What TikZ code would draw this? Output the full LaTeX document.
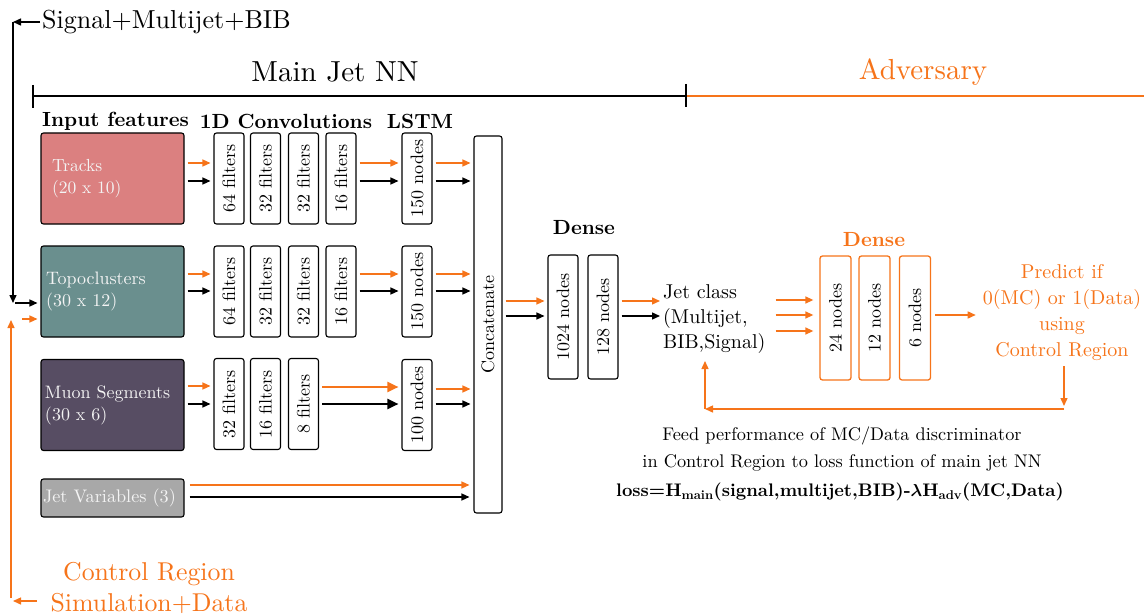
\documentclass[tikz,border=0pt]{standalone}
\usepackage{fontspec}
\setmainfont{lmroman10-regular}[Extension=.otf, BoldFont=lmroman10-bold, ItalicFont=lmroman10-italic, BoldItalicFont=lmroman10-bolditalic]
\usetikzlibrary{arrows.meta,calc}
\definecolor{aor}{RGB}{246,116,26}
\definecolor{ctrk}{RGB}{219,128,128}
\definecolor{ctopo}{RGB}{106,143,142}
\definecolor{cmuon}{RGB}{87,77,99}
\definecolor{cjetv}{RGB}{168,168,168}
\definecolor{boxtext}{RGB}{244,244,244}
\newcommand{\fsz}[2]{\fontsize{#1}{#2}\selectfont}
\begin{document}
\begin{tikzpicture}[x=1pt,y=-1pt,
  box/.style={draw=black, line width=1.1pt, rounded corners=2.5pt, inner sep=0pt},
  inbox/.style={box, minimum width=143pt, minimum height=91pt, text=boxtext, align=left, font=\fsz{18}{22}},
  convbox/.style={box, fill=white, minimum width=30pt, minimum height=91pt, font=\fsz{18}{22}},
  densebox/.style={box, fill=white, minimum width=30pt, minimum height=124pt, font=\fsz{18}{22}},
  advbox/.style={box, draw=aor, line width=1.3pt, fill=white, minimum width=31pt, minimum height=124pt, font=\fsz{18}{22}},
  hdr/.style={font=\bfseries\fsz{20.5}{24}, inner sep=0pt},
  tip/.style={-{Triangle[length=8pt,width=7pt]}},
  karr/.style={tip, draw=black, line width=1.4pt},
  oarr/.style={tip, draw=aor, line width=1.4pt},
  gap/.style={shorten <=3pt, shorten >=3pt}
]
\useasboundingbox (0,0) rectangle (1144,615);

% --- top labels and bracket
\node[font=\fsz{26}{30}, anchor=west, inner sep=0pt] (sig) at (42,22) {Signal+Multijet+BIB};
\node[font=\fsz{29}{34}, inner sep=0pt] (mjn) at (335,72) {Main Jet NN};
\node[font=\fsz{29}{34}, inner sep=0pt, text=aor] (adv) at (923,72) {Adversary};
\coordinate (bl) at (33,96);
\coordinate (bm) at (686,96);
\coordinate (br) at (1144,96);
\draw[line width=2pt] (bl) -- (bm);
\draw[line width=2pt, draw=aor] (bm) -- (br);
\draw[line width=2pt] ($(bl)+(0,-11)$) -- ($(bl)+(0,12)$);
\draw[line width=2pt] ($(bm)+(0,-12)$) -- ($(bm)+(0,11)$);

% --- headers
\node[hdr, anchor=west] (hin) at (42,121) {Input features};
\node[hdr] (hconv) at (286,121) {1D Convolutions};
\node[hdr] (hlstm) at (420,121) {LSTM};

% --- input boxes
\node[inbox, fill=ctrk, text width=121pt, inner xsep=11pt, font=\fsz{17.5}{22}] (trk) at (112.5,178.5) {Tracks\\(20 x 10)};
\node[inbox, fill=ctopo, text width=133pt, inner xsep=5pt] (topo) at (112.5,291.5) {Topoclusters\\(30 x 12)};
\node[inbox, fill=cmuon, text width=135pt, inner xsep=4pt] (muon) at (112.5,405) {Muon Segments\\(30 x 6)};
\node[inbox, fill=cjetv, minimum height=38pt, text width=139pt, inner xsep=2pt, font=\fsz{18.2}{21}] (jetv) at (112.5,498) {Jet Variables (3)};

% --- convolution rows
\node[convbox] (c11) at (229,178.5) {\rotatebox{90}{64 filters}};
\node[convbox] (c12) at (265.5,178.5) {\rotatebox{90}{32 filters}};
\node[convbox] (c13) at (303.5,178.5) {\rotatebox{90}{32 filters}};
\node[convbox] (c14) at (341,178.5) {\rotatebox{90}{16 filters}};
\node[convbox] (l1) at (417,178.5) {\rotatebox{90}{150 nodes}};

\node[convbox] (c21) at (229,291.5) {\rotatebox{90}{64 filters}};
\node[convbox] (c22) at (265.5,291.5) {\rotatebox{90}{32 filters}};
\node[convbox] (c23) at (303.5,291.5) {\rotatebox{90}{32 filters}};
\node[convbox] (c24) at (341,291.5) {\rotatebox{90}{16 filters}};
\node[convbox] (l2) at (417,291.5) {\rotatebox{90}{150 nodes}};

\node[convbox] (c31) at (229,404) {\rotatebox{90}{32 filters}};
\node[convbox] (c32) at (265.5,404) {\rotatebox{90}{16 filters}};
\node[convbox] (c33) at (303.5,404) {\rotatebox{90}{8 filters}};
\node[convbox] (l3) at (417,405) {\rotatebox{90}{100 nodes}};

\node[box, fill=white, minimum width=28pt, minimum height=377pt, font=\fsz{18}{22}] (cat) at (488,324.5) {\rotatebox{90}{Concatenate}};

% --- row arrows
\newcommand{\pairarr}[4]{%
  \draw[oarr, gap] (#1.east |- 0,#3) -- (#2.west |- 0,#3);
  \draw[karr, gap] (#1.east |- 0,#4) -- (#2.west |- 0,#4);}
\pairarr{trk}{c11}{163}{181}
\pairarr{c14}{l1}{163}{181}
\pairarr{l1}{cat}{163}{181}
\pairarr{topo}{c21}{274}{291}
\pairarr{c24}{l2}{274}{291}
\pairarr{l2}{cat}{274}{291}
\pairarr{muon}{c31}{386}{404}
\pairarr{l3}{cat}{389}{404}
\draw[oarr, gap, line width=2.3pt, -{Triangle[length=11pt,width=10pt]}] (c33.east |- 0,387) -- (l3.west |- 0,387);
\draw[karr, gap, line width=2.3pt, -{Triangle[length=11pt,width=10pt]}] (c33.east |- 0,404) -- (l3.west |- 0,404);
\draw[oarr, shorten <=5pt, shorten >=4pt] (jetv.east |- 0,485) -- (cat.west |- 0,485);
\draw[karr, shorten <=5pt, shorten >=4pt] (jetv.east |- 0,497) -- (cat.west |- 0,497);

% --- dense
\node[hdr] (hdense) at (584,228) {Dense};
\node[densebox] (d1) at (563,317) {\rotatebox{90}{1024 nodes}};
\node[densebox] (d2) at (603,317) {\rotatebox{90}{128 nodes}};
\pairarr{cat}{d1}{301}{316}
\node[font=\fsz{20}{25}, align=left, inner sep=0pt, anchor=west] (jc) at (663,319) {Jet class\\(Multijet,\\BIB,Signal)};
\pairarr{d2}{jc}{301}{316}

% --- adversary
\node[hdr, text=aor] (hadense) at (874,240) {Dense};
\node[advbox] (a1) at (835.5,318) {\rotatebox{90}{24 nodes}};
\node[advbox] (a2) at (874.5,318) {\rotatebox{90}{12 nodes}};
\node[advbox] (a3) at (915,318) {\rotatebox{90}{6 nodes}};
\foreach \yy in {300,315,331}{
  \draw[oarr, shorten <=10pt, shorten >=6pt] (jc.east |- 0,\yy) -- (a1.west |- 0,\yy);}
\node[font=\fsz{20}{26}, align=center, inner sep=0pt, text=aor] (pred) at (1062,313) {Predict if\\0(MC) or 1(Data)\\using\\Control Region};
\draw[oarr, shorten <=4pt, shorten >=7pt] (a3.east |- 0,315) -- (pred.west |- 0,315);

\coordinate (fbR) at (1064,409);
\coordinate (fbL) at (705,409);
\coordinate (fbU) at (705,361);
\draw[oarr, shorten <=5pt, shorten >=3pt] (pred.south -| fbR) -- (fbR);
\draw[oarr] (fbR) -- (fbL);
\draw[oarr] (fbL) -- (fbU);

\node[font=\fsz{18.3}{27}, align=center, inner sep=0pt] (feed) at (842,449) {Feed performance of MC/Data discriminator\\in Control Region to loss function of main jet NN};
\node[font=\bfseries\fsz{18.2}{23}, inner sep=0pt] (loss) at (840,492) {loss=H\textsubscript{main}(signal,multijet,BIB)-{\boldmath$\lambda$}H\textsubscript{adv}(MC,Data)};

% --- left feeds
\coordinate (kc) at (13,22);
\coordinate (kd) at (13,303);
\coordinate (ke) at (15,303);
\draw[karr, shorten <=2pt] (sig.west) -- (kc);
\draw[karr] (kc) -- (kd);
\draw[karr, shorten >=3pt] (ke) -- (topo.west |- ke);

\node[font=\fsz{25.8}{31}, align=center, inner sep=0pt, text=aor] (cr) at (149,588) {Control Region\\Simulation+Data};
\coordinate (oc) at (13,601);
\coordinate (od) at (11,598);
\coordinate (oe) at (11,320);
\coordinate (of) at (22,319);
\draw[oarr] (37,601) -- (oc);
\draw[oarr] (od) -- (oe);
\draw[oarr, shorten >=3pt] (of) -- (topo.west |- of);
\end{tikzpicture}
\end{document}
